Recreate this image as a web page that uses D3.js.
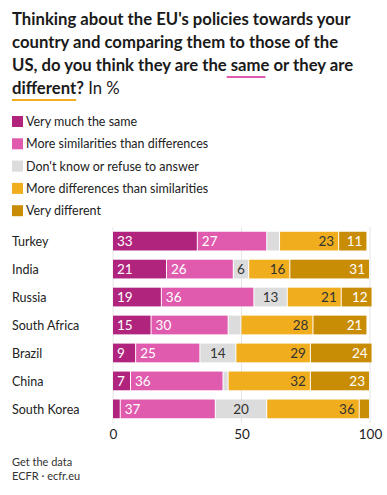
<!DOCTYPE html>
<html>
<head>
<meta charset="utf-8">
<script src="https://cdn.jsdelivr.net/npm/d3@7"></script>
<style>
  body { margin: 0; background: #fff; }
  svg { font-family: Lato, "Open Sans", sans-serif; }
</style>
</head>
<body>
<svg id="chart" width="387" height="495"></svg>
<script>
// data
const countries = ["Turkey", "India", "Russia", "South Africa", "Brazil", "China", "South Korea"];
const answers = ["Very much the same", "More similarities than differences", "Don't know or refuse to answer", "More differences than similarities", "Very different"];
const verySame   = [33, 21, 19, 15, 9, 7, 3];
const moreSimilar = [27, 26, 36, 30, 25, 36, 37];
const dontKnow   = [5, 6, 13, 5, 14, 2, 20];
const moreDiff   = [23, 16, 21, 28, 29, 32, 36];
const veryDiff   = [11, 31, 12, 21, 24, 23, 4];
const xTicks = [0, 50, 100];

const colors = ["#b0247e", "#e05bae", "#dcdcdc", "#f0ae1f", "#c98c05"];
const labelColor = ["#fff", "#fff", "#333", "#333", "#fff"];
const labelAlign = ["start", "start", "middle", "end", "end"];

const svg = d3.select("#chart");

// title
const title = svg.append("text")
  .attr("x", 12)
  .attr("font-size", 16.7)
  .attr("font-weight", 700)
  .attr("fill", "#1a1a1a");
const titleLines = [
  "Thinking about the EU's policies towards your",
  "country and comparing them to those of the",
  "US, do you think they are the same or they are",
  "different?"
];
titleLines.forEach((l, i) => {
  title.append("tspan").attr("x", 12).attr("y", 25 + i * 23).text(l);
});
title.append("tspan").attr("font-weight", 400).text(" In %");

// underlines under "same" and "different"
function underline(lineIdx, before, word, color) {
  const tmp = svg.append("text").attr("font-size", 16.7).attr("font-weight", 700)
    .attr("x", 0).attr("y", -100);
  tmp.text(before);
  const x0 = before ? tmp.node().getComputedTextLength() : 0;
  tmp.text(word);
  const w = tmp.node().getComputedTextLength();
  tmp.remove();
  svg.append("rect")
    .attr("x", 12 + x0).attr("y", 25 + lineIdx * 23 + 5)
    .attr("width", w).attr("height", 2)
    .attr("fill", color);
}
underline(2, "US, do you think they are the ", "same", "#e05bae");
underline(3, "", "different", "#f0ae1f");

// legend
const legend = svg.append("g").attr("transform", "translate(12,116)");
answers.forEach((a, i) => {
  const g = legend.append("g").attr("transform", `translate(0,${i * 22.3})`);
  g.append("rect").attr("width", 11).attr("height", 11).attr("fill", colors[i]);
  g.append("text").attr("x", 14).attr("y", 10).attr("font-size", 12.5).attr("fill", "#222").text(a);
});

// chart
const x = d3.scaleLinear().domain([0, 100]).range([113, 370]);
const y = d3.scaleBand().domain(countries).range([227, 423]).paddingInner(0.33).paddingOuter(0.17);

svg.append("g")
  .selectAll("line")
  .data(xTicks)
  .join("line")
  .attr("x1", d => x(d)).attr("x2", d => x(d))
  .attr("y1", y.range()[0]).attr("y2", y.range()[1])
  .attr("stroke", "#e6e6e6");

const series = [verySame, moreSimilar, dontKnow, moreDiff, veryDiff];
const rows = countries.map((c, i) => {
  const o = { country: c };
  answers.forEach((a, k) => (o[a] = series[k][i]));
  return o;
});
const stacked = d3.stack().keys(answers)(rows);

const layers = svg.append("g")
  .selectAll("g")
  .data(stacked)
  .join("g");

layers.selectAll("rect")
  .data((s, k) => s.map(d => ({ d, k })))
  .join("rect")
  .attr("x", e => x(e.d[0]))
  .attr("y", e => y(e.d.data.country))
  .attr("width", e => Math.max(0, x(e.d[1]) - x(e.d[0]) - 1))
  .attr("height", y.bandwidth())
  .attr("fill", e => colors[e.k]);

layers.selectAll("text")
  .data((s, k) => s.map(d => ({ d, k })).filter(e => e.d[1] - e.d[0] >= 6))
  .join("text")
  .attr("x", e => {
    const a = labelAlign[e.k];
    if (a === "start") return x(e.d[0]) + 4;
    if (a === "end") return x(e.d[1]) - 5;
    return (x(e.d[0]) + x(e.d[1])) / 2 - 0.5;
  })
  .attr("y", e => y(e.d.data.country) + y.bandwidth() / 2 + 5)
  .attr("text-anchor", e => labelAlign[e.k])
  .attr("font-size", 13.5)
  .attr("fill", e => labelColor[e.k])
  .text(e => e.d[1] - e.d[0]);

// country labels
svg.append("g")
  .selectAll("text")
  .data(countries)
  .join("text")
  .attr("x", 12)
  .attr("y", d => y(d) + y.bandwidth() / 2 + 5)
  .attr("font-size", 12.5)
  .attr("fill", "#222")
  .text(d => d);

// x axis
const axis = svg.append("g")
  .attr("transform", "translate(0,427)")
  .call(d3.axisBottom(x).tickValues(xTicks).tickSize(0).tickPadding(0));
axis.select(".domain").remove();
axis.selectAll("text")
  .attr("font-size", 13.5)
  .attr("fill", "#222")
  .attr("font-family", "Lato, sans-serif")
  .attr("dy", "0.9em");

// footer
svg.append("text").attr("x", 12).attr("y", 466).attr("font-size", 11).attr("fill", "#333").text("Get the data");
svg.append("text").attr("x", 12).attr("y", 480).attr("font-size", 11).attr("fill", "#333").text("ECFR · ecfr.eu");
</script>
</body>
</html>
